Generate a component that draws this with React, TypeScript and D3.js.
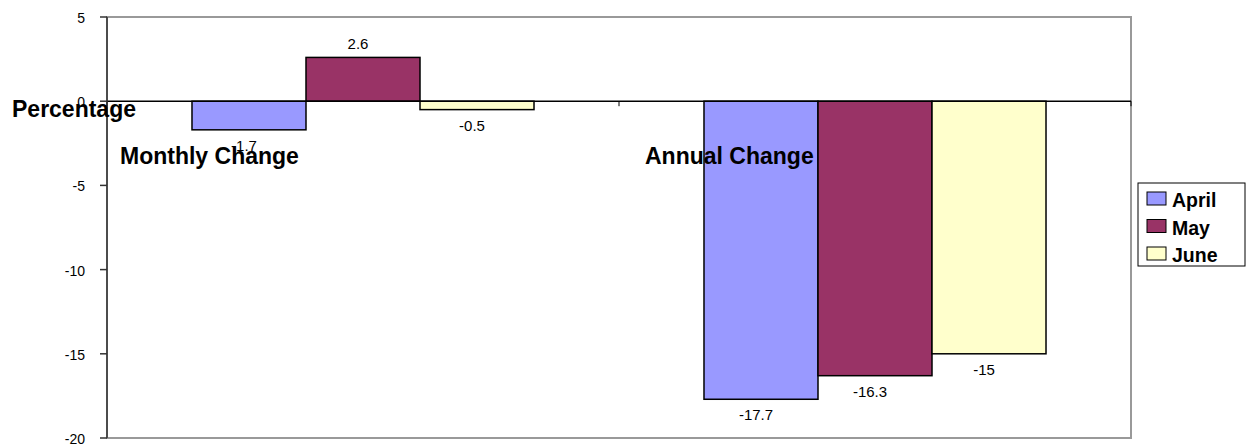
import React from "react";
import * as d3 from "d3";

const categories = ["Monthly Change", "Annual Change"];
const seriesNames = ["April", "May", "June"];
const april = [-1.7, -17.7];
const may = [2.6, -16.3];
const june = [-0.5, -15];
const yTicks = [5, 0, -5, -10, -15, -20];
const colors = ["#9999FF", "#993366", "#FFFFCC"];

export default function App() {
  const W = 1253, H = 446;
  const left = 107, right = 1131, top = 17, bottom = 438;
  const values = [april, may, june];
  const x = d3.scaleBand<string>().domain(categories).range([left, right]).paddingInner(0.332).paddingOuter(0.166);
  const xs = d3.scaleBand<string>().domain(seriesNames).range([0, x.bandwidth()]);
  const y = d3.scaleLinear().domain([-20, 5]).range([bottom, top]);
  const font = "Arial, 'Liberation Sans', Helvetica, sans-serif";
  const labelX = [120, 645];
  return (
    <svg width={W} height={H} style={{ position: "absolute", left: 0, top: 0 }} fontFamily={font}>
      <rect x={0} y={0} width={W} height={H} fill="#fff" />
      <rect x={left} y={top} width={right - left} height={bottom - top} fill="none" stroke="#999" strokeWidth={2} />
      {categories.map((c, ci) =>
        seriesNames.map((s, si) => {
          const v = values[si][ci];
          const x0 = (x(c) as number) + (xs(s) as number);
          const y0 = y(Math.max(0, v));
          const y1 = y(Math.min(0, v));
          return (
            <g key={c + s}>
              <rect x={x0} y={y0} width={xs.bandwidth()} height={y1 - y0} fill={colors[si]} stroke="#000" strokeWidth={1.5} />
              <text x={x0 + xs.bandwidth() / 2 - 5} y={v >= 0 ? y0 - 8 : y1 + 21} textAnchor="middle" fontSize={15} fill="#000">{v}</text>
            </g>
          );
        })
      )}
      <line x1={left} x2={right} y1={y(0)} y2={y(0)} stroke="#000" strokeWidth={1.5} />
      {[left, (left + right) / 2, right].map((t, i) => (
        <line key={i} x1={t} x2={t} y1={y(0)} y2={y(0) + 5} stroke="#000" strokeWidth={1} />
      ))}
      <line x1={left} x2={left} y1={top} y2={bottom} stroke="#333" strokeWidth={1.5} />
      {yTicks.map((t) => (
        <g key={t}>
          <line x1={left - 7} x2={left} y1={y(t)} y2={y(t)} stroke="#333" strokeWidth={1.5} />
          <text x={85} y={y(t) + 6} textAnchor="end" fontSize={14} fill="#000">{t}</text>
        </g>
      ))}
      <text x={12} y={117} fontSize={23} fontWeight="bold" fill="#000">Percentage</text>
      {categories.map((c, i) => (
        <text key={c} x={labelX[i]} y={164} fontSize={23} fontWeight="bold" fill="#000">{c}</text>
      ))}
      <rect x={1138} y={183} width={107} height={83} fill="#fff" stroke="#000" strokeWidth={1} />
      {seriesNames.map((s, i) => (
        <g key={s}>
          <rect x={1147} y={192 + i * 27.5} width={19} height={13} fill={colors[i]} stroke="#000" strokeWidth={1} />
          <text x={1172} y={207 + i * 27.5} fontSize={19.5} fontWeight="bold" fill="#000">{s}</text>
        </g>
      ))}
    </svg>
  );
}
